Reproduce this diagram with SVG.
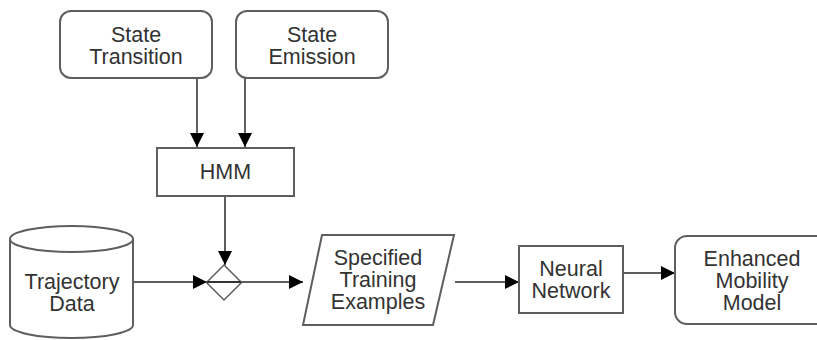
<svg xmlns="http://www.w3.org/2000/svg" width="817" height="340" viewBox="0 0 817 340">
<defs>
<style>
.box{fill:#fff;stroke:#5e5e5e;stroke-width:2}
.ln{fill:none;stroke:#5e5e5e;stroke-width:2}
text{font-family:"Liberation Sans",Arial,sans-serif;font-size:21.5px;fill:#333;text-anchor:middle}
</style>
<marker id="ah" viewBox="0 0 14 14" markerWidth="14" markerHeight="14" refX="14" refY="7" orient="auto" markerUnits="userSpaceOnUse">
<path d="M0,0 L14,7 L0,14 Z" fill="#000"/>
</marker>
</defs>
<rect width="817" height="340" fill="#fff"/>
<g id="connectors">
<path class="ln" d="M197,78 V147" marker-end="url(#ah)"/>
<path class="ln" d="M245,78 V147" marker-end="url(#ah)"/>
<path class="ln" d="M225,196 V265" marker-end="url(#ah)"/>
<path class="ln" d="M133,282 H207" marker-end="url(#ah)"/>
<path class="ln" d="M207,282 H303" marker-end="url(#ah)"/>
<path class="ln" d="M455,282 H519" marker-end="url(#ah)"/>
<path class="ln" d="M623,273 H675" marker-end="url(#ah)"/>
</g>
<g id="state-transition">
<rect class="box" x="60" y="11" width="152" height="67" rx="11"/>
<text x="136" y="42">State</text>
<text x="136" y="64">Transition</text>
</g>
<g id="state-emission">
<rect class="box" x="236" y="11" width="152" height="67" rx="11"/>
<text x="312" y="42">State</text>
<text x="312" y="64">Emission</text>
</g>
<g id="hmm">
<rect class="box" x="157" y="148" width="137" height="48"/>
<text x="225.5" y="179">HMM</text>
</g>
<g id="merge">
<path d="M224,265 L241.5,282.5 L224,300 L206.5,282.5 Z" fill="#fff" stroke="#5e5e5e" stroke-width="1.5"/>
<path d="M207,282 H241" stroke="#333" stroke-width="2"/>
</g>
<g id="trajectory-data">
<path class="box" d="M10,239 V325 A61.5,13 0 0 0 133,325 V239"/>
<ellipse class="box" cx="71.5" cy="239" rx="61.5" ry="13"/>
<text x="72" y="289">Trajectory</text>
<text x="72" y="311">Data</text>
</g>
<g id="training-examples">
<path class="box" d="M322,235 H454 L433,325 H303 Z"/>
<text x="378" y="265">Specified</text>
<text x="378" y="287">Training</text>
<text x="378" y="309">Examples</text>
</g>
<g id="neural-network">
<rect class="box" x="519" y="246" width="104" height="67"/>
<text x="571" y="276">Neural</text>
<text x="571" y="298">Network</text>
</g>
<g id="enhanced-mobility-model">
<rect class="box" x="675" y="236" width="160" height="88" rx="12"/>
<text x="752" y="266">Enhanced</text>
<text x="752" y="288">Mobility</text>
<text x="752" y="310">Model</text>
</g>
</svg>
